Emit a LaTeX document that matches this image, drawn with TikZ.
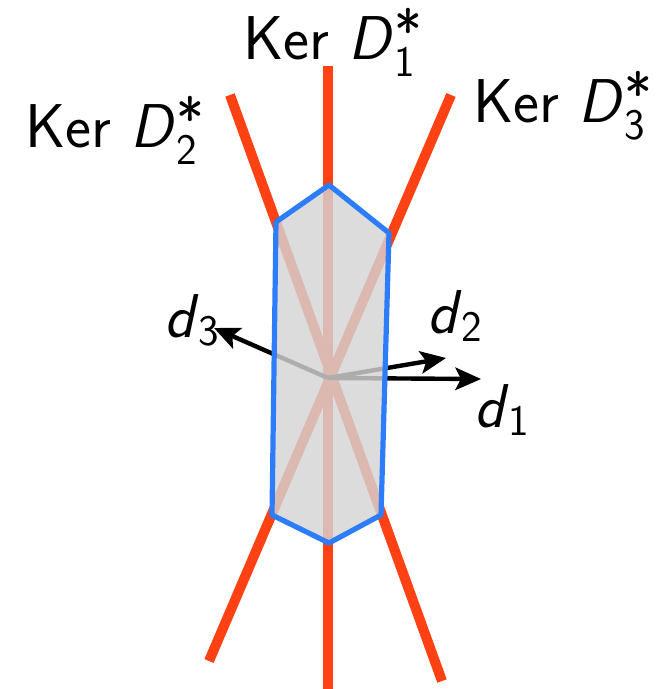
\documentclass[tikz,border=0pt]{standalone}
\usetikzlibrary{arrows.meta}
\definecolor{kred}{RGB}{255,65,20}
\definecolor{kblue}{RGB}{45,125,250}
\definecolor{kgray}{RGB}{212,212,212}
\newcommand\kerD[1]{Ker \textit{D}\rlap{\raisebox{0.12em}{\fontsize{42}{42}\selectfont\upshape *}}\raisebox{-0.27em}{\fontsize{31}{31}\selectfont\upshape #1}}
\newcommand\dlab[1]{\textit{d}\raisebox{-0.14em}{\fontsize{31}{31}\selectfont #1}}
\begin{document}
\begin{tikzpicture}[x=0.025cm,y=-0.025cm,
  kerline/.style={kred,line width=0.25cm},
  vec/.style={line width=0.11cm,-{Stealth[length=0.64cm,width=0.56cm,inset=0.14cm]}},
  lbl/.style={inner sep=0pt,anchor=base west,font=\fontsize{44}{50}\selectfont\sffamily},
  hexfill/.style={fill=kgray,fill opacity=0.82,draw=none},
  hexborder/.style={draw=kblue,line width=0.13cm,line join=round}]
\useasboundingbox (0,0) rectangle (656,689);
% kernel line end points
\coordinate (t1) at (328,66);
\coordinate (b1) at (328,689);
\coordinate (t2) at (230,95);
\coordinate (b2) at (442,681);
\coordinate (t3) at (451,95);
\coordinate (b3) at (209,661);
% centre and vector tips
\coordinate (O) at (328,378);
\coordinate (v1) at (481,379);
\coordinate (v2) at (446,358);
\coordinate (v3) at (214,328);
% hexagon corners
\coordinate (h1) at (329,185);
\coordinate (h2) at (389,233);
\coordinate (h3) at (381,515);
\coordinate (h4) at (329,543);
\coordinate (h5) at (272,515);
\coordinate (h6) at (276,222);
% lines
\draw[kerline] (t1) -- (b1);
\draw[kerline] (t2) -- (b2);
\draw[kerline] (t3) -- (b3);
% vectors
\draw[vec] (O) -- (v3);
\draw[vec] (O) -- (v2);
\draw[vec] (O) -- (v1);
% hexagon
\path[hexfill] (h1) -- (h2) -- (h3) -- (h4) -- (h5) -- (h6) -- cycle;
\draw[hexborder] (h1) -- (h2) -- (h3) -- (h4) -- (h5) -- (h6) -- cycle;
% labels
\node[lbl] (k1) at (243,60) {\kerD{1}};
\node[lbl] (k2) at (25,148) {\kerD{2}};
\node[lbl] (k3) at (473,123) {\kerD{3}};
\node[lbl] (l3) at (164,337) {\dlab{3}};
\node[lbl] (l2) at (427,333) {\dlab{2}};
\node[lbl] (l1) at (474,427) {\dlab{1}};
\end{tikzpicture}
\end{document}
